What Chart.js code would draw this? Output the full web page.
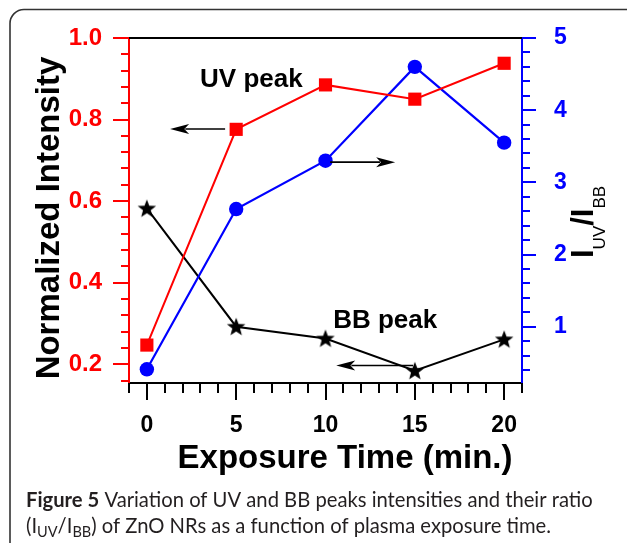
<!DOCTYPE html>
<html><head><meta charset="utf-8">
<script src="https://cdn.jsdelivr.net/npm/chart.js@4/dist/chart.umd.min.js"></script>
<style>html,body{margin:0;padding:0;background:#fff;}canvas{display:block;}</style>
</head><body>
<canvas id="c" width="627" height="543" style="width:627px;height:543px"></canvas>
<script>
// ---- data ----
const exposureTime = [0, 5, 10, 15, 20];
const uvPeak = [0.247, 0.776, 0.885, 0.850, 0.938];
const bbPeak = [0.582, 0.292, 0.263, 0.184, 0.261];
const ratioUvBb = [0.41, 2.63, 3.30, 4.60, 3.55];

const xTicks = [0, 5, 10, 15, 20];
const xMinorTicks = [-1, 1, 2, 3, 4, 6, 7, 8, 9, 11, 12, 13, 14, 16, 17, 18, 19, 21];
const leftTicks = [0.2, 0.4, 0.6, 0.8, 1.0];
const leftMinorTicks = [0.16, 0.24, 0.28, 0.32, 0.36, 0.44, 0.48, 0.52, 0.56, 0.64, 0.68, 0.72, 0.76, 0.84, 0.88, 0.92, 0.96];
const rightTicks = [1, 2, 3, 4, 5];
const rightMinorTicks = [0.4, 0.6, 0.8, 1.2, 1.4, 1.6, 1.8, 2.2, 2.4, 2.6, 2.8, 3.2, 3.4, 3.6, 3.8, 4.2, 4.4, 4.6, 4.8];

const xRange = [-1, 21];
const leftRange = [0.154, 1.0];
const rightRange = [0.22, 5];

// annotation labels (data coords on x / left axis)
const labelTexts = ['UV peak', 'BB peak'];
const labelX = [2.98, 10.43];
const labelY = [0.88, 0.288];
// arrows: [x from, x to, y]  (axis given)
const arrowFromX = [4.38, 10.26, 14.9];
const arrowToX = [1.30, 13.9, 10.6];
const arrowY = [0.777, 3.28, 0.197];
const arrowAxis = ['y', 'y2', 'y'];

// ---- star marker ----
function makeStar(size) {
  const cv = document.createElement('canvas');
  cv.width = size; cv.height = size;
  const g = cv.getContext('2d');
  const cx = size / 2, cy = size / 2 + 0.6, R = size / 2 - 0.3, r = R * 0.42;
  g.beginPath();
  for (let i = 0; i < 10; i++) {
    const a = -Math.PI / 2 + i * Math.PI / 5;
    const rr = i % 2 === 0 ? R : r;
    const px = cx + rr * Math.cos(a), py = cy + rr * Math.sin(a);
    if (i === 0) g.moveTo(px, py); else g.lineTo(px, py);
  }
  g.closePath();
  g.fillStyle = '#000';
  g.fill();
  return cv;
}
const starImg = makeStar(20);

const FONT = '"Liberation Sans", Arial, Helvetica, sans-serif';

function drawTicks(ctx, scale, vals, len, side, ca, color) {
  ctx.strokeStyle = color;
  ctx.lineWidth = 2;
  ctx.beginPath();
  vals.forEach(v => {
    const p = Math.round(scale.getPixelForValue(v));
    if (side === 'left') { ctx.moveTo(ca.left, p); ctx.lineTo(ca.left - len, p); }
    else if (side === 'right') { ctx.moveTo(ca.right, p); ctx.lineTo(ca.right + len, p); }
    else { ctx.moveTo(p, ca.bottom); ctx.lineTo(p, ca.bottom + len); }
  });
  ctx.stroke();
}

function arrow(ctx, x1, x2, y) {
  const dir = Math.sign(x2 - x1);
  const headL = 19, headW = 5;
  ctx.strokeStyle = '#000';
  ctx.fillStyle = '#000';
  ctx.lineWidth = 1.6;
  ctx.beginPath();
  ctx.moveTo(x1, y);
  ctx.lineTo(x2 - dir * headL * 0.8, y);
  ctx.stroke();
  ctx.beginPath();
  ctx.moveTo(x2, y);
  ctx.lineTo(x2 - dir * headL, y - headW);
  ctx.lineTo(x2 - dir * headL * 0.75, y);
  ctx.lineTo(x2 - dir * headL, y + headW);
  ctx.closePath();
  ctx.fill();
}

const decor = {
  id: 'decor',
  beforeDraw(chart) {
    const ctx = chart.ctx;
    ctx.save();
    ctx.fillStyle = '#fff';
    ctx.fillRect(0, 0, chart.width, chart.height);
    ctx.strokeStyle = '#333';
    ctx.lineWidth = 1.6;
    ctx.beginPath();
    ctx.roundRect(10, 9.5, 700, 700, 14);
    ctx.stroke();
    ctx.restore();
  },
  afterDraw(chart) {
    const ctx = chart.ctx;
    const ca = chart.chartArea;
    const sx = chart.scales.x, sy = chart.scales.y, sy2 = chart.scales.y2;
    ctx.save();
    // top frame line
    ctx.strokeStyle = '#000';
    ctx.lineWidth = 2;
    ctx.beginPath();
    ctx.moveTo(ca.left, ca.top); ctx.lineTo(ca.right, ca.top);
    ctx.stroke();
    // ticks
    drawTicks(ctx, sy, leftTicks, 16, 'left', ca, '#ff0000');
    drawTicks(ctx, sy, leftMinorTicks, 8, 'left', ca, '#ff0000');
    drawTicks(ctx, sy2, rightTicks, 14, 'right', ca, '#0000ff');
    drawTicks(ctx, sy2, rightMinorTicks, 8, 'right', ca, '#0000ff');
    drawTicks(ctx, sx, xTicks, 17, 'bottom', ca, '#000');
    drawTicks(ctx, sx, xMinorTicks, 10, 'bottom', ca, '#000');

    // annotation labels
    ctx.fillStyle = '#000';
    ctx.font = 'bold 26px ' + FONT;
    ctx.textAlign = 'left';
    ctx.textBaseline = 'alphabetic';
    labelTexts.forEach((t, i) => {
      ctx.fillText(t, sx.getPixelForValue(labelX[i]), sy.getPixelForValue(labelY[i]));
    });
    // arrows
    arrowFromX.forEach((xf, i) => {
      const ys = arrowAxis[i] === 'y' ? sy : sy2;
      arrow(ctx, sx.getPixelForValue(xf), sx.getPixelForValue(arrowToX[i]), ys.getPixelForValue(arrowY[i]));
    });

    // x title
    ctx.fillStyle = '#000';
    ctx.font = 'bold 33px ' + FONT;
    ctx.textAlign = 'center';
    ctx.fillText('Exposure Time (min.)', 345, 468);

    // left y title
    ctx.save();
    ctx.translate(59, 218);
    ctx.rotate(-Math.PI / 2);
    ctx.textAlign = 'center';
    ctx.fillText('Normalized Intensity', 0, 0);
    ctx.restore();

    // right y title  I_UV / I_BB
    ctx.save();
    ctx.translate(593, 258);
    ctx.rotate(-Math.PI / 2);
    ctx.textAlign = 'left';
    let cx = 0;
    const big = 'bold 31px ' + FONT, sub = '17px ' + FONT;
    ctx.font = big; ctx.fillText('I', cx, 0); cx += ctx.measureText('I').width;
    ctx.font = sub; ctx.fillText('UV', cx, 12); cx += ctx.measureText('UV').width;
    ctx.font = big; ctx.fillText('/I', cx, 0); cx += ctx.measureText('/I').width;
    ctx.font = sub; ctx.fillText('BB', cx, 12);
    ctx.restore();

    // caption
    const capFont = 'Lato, "Open Sans", sans-serif';
    const line1a = 'Figure 5', line1b = ' Variation of UV and BB peaks intensities and their ratio';
    ctx.font = 'bold 20px ' + capFont;
    const wA = ctx.measureText(line1a).width;
    ctx.font = '20px ' + capFont;
    const wB = ctx.measureText(line1b).width;
    const fs = 20 * 567 / (wA + wB);
    ctx.fillStyle = '#231f20';
    ctx.textAlign = 'left';
    let x0 = 26;
    ctx.font = 'bold ' + fs + 'px ' + capFont;
    ctx.fillText(line1a, x0, 507);
    x0 += ctx.measureText(line1a).width;
    ctx.font = fs + 'px ' + capFont;
    ctx.fillText(line1b, x0, 507);
    // line 2
    const subFs = fs * 0.72;
    const parts = [['(I', fs, 0], ['UV', subFs, 4], ['/I', fs, 0], ['BB', subFs, 4], [') of ZnO NRs as a function of plasma exposure time.', fs, 0]];
    x0 = 26;
    parts.forEach(p => {
      ctx.font = p[1] + 'px ' + capFont;
      ctx.fillText(p[0], x0, 533 + p[2]);
      x0 += ctx.measureText(p[0]).width;
    });
    ctx.restore();
  }
};

const toXY = (ys) => exposureTime.map((x, i) => ({ x: x, y: ys[i] }));

new Chart(document.getElementById('c'), {
  type: 'line',
  data: {
    datasets: [
      {
        label: 'UV peak', data: toXY(uvPeak), yAxisID: 'y',
        borderColor: '#ff0000', backgroundColor: '#ff0000', borderWidth: 2,
        pointStyle: 'rect', pointRadius: 9.3, pointBorderWidth: 0, pointBackgroundColor: '#ff0000'
      },
      {
        label: 'IUV/IBB', data: toXY(ratioUvBb), yAxisID: 'y2',
        borderColor: '#0000ff', backgroundColor: '#0000ff', borderWidth: 2.2,
        pointStyle: 'circle', pointRadius: 7.2, pointBorderWidth: 0, pointBackgroundColor: '#0000ff'
      },
      {
        label: 'BB peak', data: toXY(bbPeak), yAxisID: 'y',
        borderColor: '#000', backgroundColor: '#000', borderWidth: 2,
        pointStyle: starImg, pointRadius: 10
      }
    ]
  },
  options: {
    responsive: false,
    animation: false,
    devicePixelRatio: 1,
    layout: { padding: { top: 38, left: 0, right: 0, bottom: 0 } },
    plugins: { legend: { display: false }, tooltip: { enabled: false } },
    elements: { line: { tension: 0 } },
    scales: {
      x: {
        type: 'linear', min: xRange[0], max: xRange[1],
        afterBuildTicks: s => { s.ticks = xTicks.map(v => ({ value: v })); },
        afterFit: s => { s.height = 160; },
        grid: { display: false },
        border: { display: true, color: '#000', width: 2 },
        ticks: { color: '#000', font: { family: FONT, size: 23, weight: 'bold' }, padding: 21, maxRotation: 0 }
      },
      y: {
        position: 'left', min: leftRange[0], max: leftRange[1],
        afterBuildTicks: s => { s.ticks = leftTicks.map(v => ({ value: v })); },
        afterFit: s => { s.width = 129; },
        grid: { display: false },
        border: { display: true, color: '#ff0000', width: 2 },
        ticks: { color: '#ff0000', font: { family: FONT, size: 24, weight: 'bold' }, padding: 19, callback: v => v.toFixed(1) }
      },
      y2: {
        position: 'right', min: rightRange[0], max: rightRange[1],
        afterBuildTicks: s => { s.ticks = rightTicks.map(v => ({ value: v })); },
        afterFit: s => { s.width = 105; },
        grid: { display: false },
        border: { display: true, color: '#0000ff', width: 2 },
        ticks: { color: '#0000ff', font: { family: FONT, size: 23, weight: 'bold' }, padding: 24, callback: v => String(v) }
      }
    }
  },
  plugins: [decor]
});
</script>
</body></html>
